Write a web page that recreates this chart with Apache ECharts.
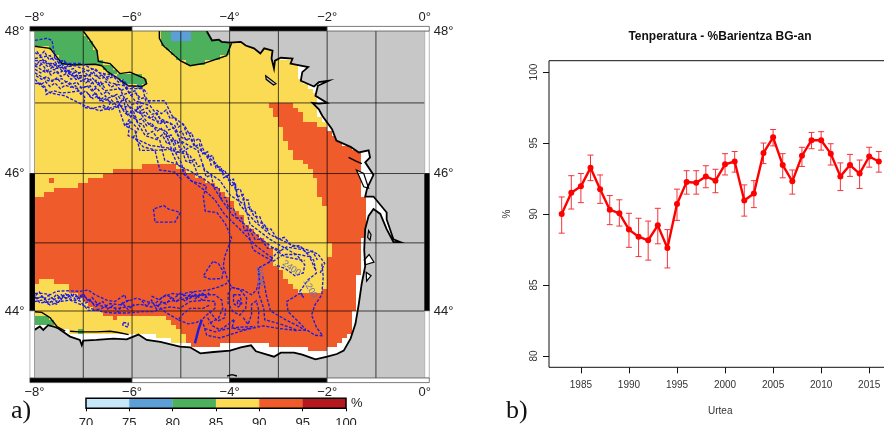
<!DOCTYPE html>
<html><head><meta charset="utf-8">
<style>html,body{margin:0;padding:0;background:#fff}#c{width:884px;height:425px}</style>
<script src="https://cdn.jsdelivr.net/npm/echarts@6/dist/echarts.min.js"></script>
</head><body><div id="c"></div>
<script>
// ---------- panel b data ----------
const years=[1983,1984,1985,1986,1987,1988,1989,1990,1991,1992,1993,1994,1995,1996,1997,1998,1999,2000,2001,2002,2003,2004,2005,2006,2007,2008,2009,2010,2011,2012,2013,2014,2015,2016];
const meanPct=[90.0,91.5,91.95,93.25,91.75,90.3,90.05,88.9,88.4,88.15,89.2,87.6,90.7,92.25,92.2,92.65,92.35,93.5,93.7,90.95,91.45,94.3,95.4,93.45,92.3,94.1,95.2,95.2,94.25,92.65,93.45,92.85,94.05,93.7];
const upperPct=[91.2,92.7,92.85,94.15,92.75,91.3,91.0,90.05,89.7,89.5,90.4,88.9,91.75,93.05,93.05,93.4,93.15,94.25,94.4,92.05,92.35,95.0,95.95,94.25,93.1,94.7,95.75,95.8,94.95,93.6,94.2,93.8,94.7,94.4];
const lowerPct=[88.65,90.35,90.8,92.35,90.75,89.25,89.15,87.65,87.0,86.75,87.9,86.2,89.55,91.4,91.4,91.85,91.5,92.75,92.95,89.85,90.45,93.55,94.8,92.55,91.4,93.35,94.6,94.5,93.45,91.65,92.65,91.8,93.3,92.95];
const yearTicks=[1985,1990,1995,2000,2005,2010,2015];
const pctTicks=[80,85,90,95,100];
// ---------- colour bar ----------
const scaleFrom=[70,75,80,85,90,95];
const scaleTo=[75,80,85,90,95,100];
const scaleColors=['#c4e8f8','#5b9fd6','#4cb05c','#fbdb54','#ef5b2a','#b5191e'];
// ---------- map ticks ----------
const lonLines=[-7,-6,-5,-4,-3,-2,-1];
const latLines=[44,45,46,47];
const latLabels=[44,46,48];
// ---------- map outlines, lon/lat ----------
const seaExtent=[[-8,48],[-3,48],[-3,47.6],[-2.58,47.55],[-2.56,47.31],[-2.27,47.19],[-2.22,47.1],[-2.22,46.89],[-2,46.67],[-1.8,46.47],[-1.35,46.33],[-1.25,46.14],[-1.28,46.02],[-1.35,46],[-1.33,45.88],[-1.25,45.67],[-1.22,45.47],[-1.22,45.34],[-1.25,45.07],[-1.32,44.85],[-1.35,44.5],[-1.35,44.16],[-1.45,44.01],[-1.48,43.77],[-1.62,43.59],[-1.8,43.49],[-2.14,43.39],[-2.34,43.39],[-2.51,43.47],[-3.09,43.47],[-3.29,43.52],[-3.78,43.52],[-4.33,43.49],[-4.74,43.49],[-5.15,43.54],[-5.42,43.62],[-5.7,43.68],[-6,43.69],[-6.38,43.66],[-7.27,43.64],[-7.37,43.72],[-7.99,43.81],[-8,43.81]];
const orangeArea=[[-8,45.65],[-7.78,45.72],[-7.47,45.79],[-7.23,45.77],[-6.99,45.88],[-6.65,45.95],[-6.51,46.02],[-5.97,46.08],[-5.49,46.14],[-5.22,46.14],[-4.98,46.05],[-4.88,46],[-4.34,45.86],[-4.14,45.76],[-3.99,45.64],[-3.79,45.41],[-3.65,45.26],[-3.23,45],[-3.09,44.87],[-3.09,44.71],[-2.87,44.5],[-2.76,44.41],[-2.5,44.27],[-2.19,44.24],[-2.01,44.34],[-2.05,44.75],[-1.9,44.85],[-2.01,45.19],[-2.01,45.44],[-2.11,45.62],[-2.21,45.81],[-2.29,46],[-2.5,46.15],[-2.72,46.24],[-2.81,46.43],[-2.93,46.5],[-2.91,46.65],[-3.11,46.85],[-3.17,46.99],[-2.72,46.99],[-2.56,46.89],[-2.52,46.71],[-2.19,46.71],[-1.99,46.64],[-1,46.5],[-1,43.2],[-4.74,43.2],[-4.74,43.49],[-4.84,43.54],[-4.95,43.67],[-5.15,43.79],[-5.35,43.92],[-5.7,43.96],[-5.97,43.92],[-6.38,43.89],[-6.72,44.01],[-7,44.16],[-7.3,44.31],[-7.34,44.4],[-7.57,44.42],[-7.64,44.47],[-7.88,44.47],[-7.99,44.36],[-8,44.36]];
const orangeSpeck=[[-7.72,45.93],[-7.62,45.98],[-7.6,45.9],[-7.7,45.85]];
const greenNW=[[-8,48],[-7,48],[-6.89,47.9],[-6.72,47.73],[-6.69,47.58],[-6.45,47.55],[-6.25,47.41],[-6.04,47.43],[-5.74,47.34],[-5.7,47.27],[-5.8,47.23],[-6.08,47.24],[-6.28,47.34],[-6.49,47.43],[-6.62,47.52],[-6.76,47.54],[-7.2,47.53],[-7.44,47.55],[-7.54,47.64],[-7.68,47.76],[-8,47.79]];
const greenN=[[-5.44,48],[-5.44,47.9],[-5.36,47.8],[-5.01,47.59],[-4.81,47.52],[-4.54,47.55],[-4.06,47.66],[-3.96,47.83],[-3.96,48]];
const blueN=[[-5.23,48],[-5.23,47.88],[-4.77,47.88],[-4.77,48]];
const greenSW=[[-8,43.95],[-7.82,43.94],[-7.68,43.88],[-7.51,43.74],[-7.37,43.7],[-7.61,43.8],[-8,43.82]];
const greenS=[[-7.29,43.69],[-7.1,43.7],[-6.6,43.69],[-6.3,43.67],[-6.05,43.65],[-6.4,43.63],[-7.29,43.62]];
const coast=[[-4.47,48],[-4.36,47.87],[-4.22,47.88],[-4.16,47.85],[-3.99,47.84],[-3.77,47.85],[-3.67,47.8],[-3.5,47.76],[-3.37,47.69],[-3.29,47.76],[-3.12,47.73],[-3.14,47.62],[-3.09,47.48],[-3.07,47.59],[-2.95,47.63],[-2.71,47.62],[-2.75,47.55],[-2.54,47.52],[-2.39,47.5],[-2.51,47.43],[-2.54,47.31],[-2.27,47.23],[-2.17,47.29],[-1.97,47.31],[-2.19,47.24],[-2.24,47.1],[-2,47],[-2.17,46.99],[-2.3,47],[-2.17,46.91],[-2.1,46.82],[-1.9,46.63],[-1.81,46.47],[-1.52,46.38],[-1.35,46.3],[-1.15,46.33],[-1.12,46.23],[-1.22,46.16],[-1.05,45.98],[-1.18,45.79],[-1.22,45.67],[-1.05,45.67],[-0.78,45.44],[-0.78,45.34],[-0.64,45.05],[-0.5,45.01],[-0.64,45.01],[-0.78,45.2],[-0.91,45.42],[-1.05,45.49],[-1.15,45.39],[-1.22,45.2],[-1.24,44.9],[-1.22,44.66],[-1.29,44.41],[-1.35,44.11],[-1.42,43.81],[-1.52,43.59],[-1.66,43.41],[-1.8,43.36],[-2,43.32],[-2.24,43.28],[-2.51,43.35],[-2.68,43.38],[-2.95,43.38],[-3.09,43.32],[-3.46,43.4],[-3.56,43.49],[-3.77,43.46],[-3.99,43.41],[-4.33,43.39],[-4.6,43.37],[-4.81,43.46],[-5.02,43.47],[-5.42,43.54],[-5.7,43.57],[-5.87,43.65],[-6.11,43.58],[-6.38,43.59],[-6.73,43.57],[-7,43.56],[-7.03,43.49],[-7.07,43.57],[-7.27,43.62],[-7.37,43.67],[-7.51,43.74],[-7.61,43.77],[-7.72,43.79],[-7.82,43.72],[-7.89,43.77],[-8,43.72]];
const landCorners=[[-8,43],[0,43],[0,48]];
const islandsGrey=[[[-3.26,47.38],[-3.05,47.27],[-3.1,47.25],[-3.25,47.33]],[[-1.15,45.18],[-1.1,45.12],[-1.12,45.04],[-1.17,45.08]]];
const islandsWhite=[[[-1.4,46.05],[-1.25,46],[-1.15,45.79],[-1.25,45.81]],[[-1.24,44.75],[-1.14,44.83],[-1.04,44.72],[-1.22,44.68]],[[-1.2,44.57],[-1.1,44.52],[-1.19,44.44]]];
const blackLines=[
 [[-7,48],[-6.89,47.9],[-6.72,47.73],[-6.69,47.58],[-6.45,47.55],[-6.25,47.41],[-6.04,47.43],[-5.74,47.34],[-5.7,47.27],[-5.8,47.23],[-6.08,47.24],[-6.28,47.34],[-6.49,47.43],[-6.62,47.52],[-6.76,47.54],[-7.2,47.53],[-7.44,47.55],[-7.54,47.64],[-7.68,47.76],[-8,47.79]],
 [[-5.44,48],[-5.44,47.9],[-5.36,47.8],[-5.01,47.59],[-4.81,47.52],[-4.54,47.55],[-4.06,47.66],[-3.96,47.83]],
 [[-8,43.99],[-7.85,43.98],[-7.68,43.9],[-7.54,43.77],[-7.37,43.7]],
 [[-7.27,43.7],[-7.07,43.69],[-6.73,43.69],[-6.45,43.7],[-6.28,43.68],[-6.07,43.65]],
 [[-1.56,46.23],[-1.42,46.18],[-1.29,46.14]],
 [[-4.05,43.03],[-3.95,43.05],[-3.85,43.03]]
];
// ---------- contours (dashed bathymetry), lon/lat ----------
const contourA=[[-7.99,47.27],[-7.89,47.28],[-7.78,47.22],[-7.76,47.12],[-7.61,47.17],[-7.44,47.14],[-7.27,47.15],[-7.07,47.17],[-6.97,47.08],[-7,46.94],[-6.83,46.92],[-6.66,46.95],[-6.45,46.9],[-6.25,46.96],[-6.04,46.94],[-6.01,46.82],[-6.14,46.68],[-6.01,46.73],[-5.87,46.63],[-5.97,46.52],[-5.77,46.38],[-5.49,46.33],[-5.15,46.35],[-4.98,46.14],[-4.95,46],[-4.78,45.89],[-4.61,45.86],[-4.47,45.82],[-4.54,45.68],[-4.5,45.46],[-4.26,45.44],[-4.09,45.28],[-3.96,45.07],[-4.1,44.8],[-4.13,44.66],[-4.05,44.48],[-3.96,44.35],[-3.72,44.31],[-3.55,44.24],[-3.45,44.31],[-3.39,44.46],[-3.41,44.63],[-3.14,44.74],[-3.31,44.81],[-3.52,44.9],[-3.58,45.05],[-3.65,45.22]];
const contourB=[[-7.99,47.87],[-7.74,47.9],[-7.64,47.87],[-7.58,47.62],[-7.33,47.55],[-7.03,47.55],[-6.66,47.42],[-6.35,47.38],[-6.08,47.2],[-5.78,47.2],[-5.72,47.03],[-5.33,47.03],[-5.18,46.82],[-4.92,46.68],[-4.71,46.4],[-4.36,46.19],[-4.1,45.98],[-3.89,45.84],[-3.79,45.55],[-3.48,45.31],[-3.17,45.12],[-2.76,44.98],[-2.46,44.91],[-2.19,44.84],[-2.05,44.7],[-2.15,44.55]];
const contourC=[[-7.99,47.62],[-7.68,47.66],[-7.44,47.45],[-7.07,47.42],[-6.76,47.48],[-6.45,47.28],[-6.15,47.24],[-5.94,47.03],[-5.63,46.96],[-5.43,46.78],[-5.12,46.68],[-5.02,46.47],[-4.65,46.33],[-4.51,46.05],[-4.2,45.9],[-3.99,45.69],[-3.69,45.55],[-3.58,45.27],[-3.17,45.05],[-2.66,44.84],[-2.36,44.8],[-2.25,44.62]];
const contourD=[[-7.99,47.52],[-7.78,47.43],[-7.48,47.57],[-7.23,47.38],[-6.86,47.38],[-6.56,47.17],[-6.25,47.2],[-6.08,46.96],[-5.84,46.86],[-5.63,46.68],[-5.33,46.61],[-5.18,46.33],[-4.81,46.26],[-4.65,45.98],[-4.36,45.84],[-4.16,45.62],[-3.95,45.41],[-3.69,45.27],[-3.34,45.05],[-2.87,44.8],[-2.46,44.74]];
const contourE=[[-7.99,47.42],[-7.72,47.31],[-7.44,47.34],[-7.17,47.2],[-6.86,47.24],[-6.66,47.03],[-6.35,47.1],[-6.15,46.86],[-5.94,46.78],[-5.73,46.54],[-5.43,46.47],[-5.33,46.19],[-5.02,46.12],[-4.81,45.91],[-4.51,45.76],[-4.3,45.62],[-4.1,45.41],[-3.79,45.2],[-3.48,44.97],[-3.13,44.78]];
const contourF=[[-7.93,47.28],[-7.68,47.14],[-7.38,47.1],[-6.97,46.96],[-6.66,46.89],[-6.29,46.96],[-6.15,46.68],[-5.94,46.61],[-5.84,46.33],[-5.53,46.33],[-5.43,46.05],[-5.12,46.02],[-4.98,45.91]];
const contourG=[[-7.99,47.59],[-7.78,47.59],[-7.58,47.48],[-7.38,47.5],[-7.17,47.52],[-6.9,47.45],[-6.66,47.34],[-6.41,47.38]];
const contourH=[[-6.25,47.1],[-5.94,47.17],[-5.8,46.96],[-5.94,46.89],[-5.73,46.82],[-5.53,46.75],[-5.22,46.72],[-5.06,46.54],[-4.85,46.47]];
const contourI=[[-6.04,46.75],[-6.08,46.54],[-5.84,46.47],[-5.63,46.4],[-5.22,46.36],[-5.06,46.12],[-4.77,46.02],[-4.6,45.94]];
const contourJ=[[-7.99,47.55],[-7.89,47.52],[-7.82,47.57],[-7.72,47.5],[-7.61,47.55],[-7.51,47.48],[-7.41,47.51],[-7.31,47.45],[-7.2,47.48],[-7.1,47.41],[-7,47.45],[-6.9,47.38],[-6.79,47.43],[-6.69,47.36],[-6.59,47.41],[-6.49,47.34],[-6.38,47.37],[-6.28,47.29],[-6.18,47.32],[-6.08,47.24],[-5.97,47.22],[-5.87,47.24],[-5.77,47.2],[-5.69,47.13]];
const contourK=[[-7.99,47.47],[-7.87,47.42],[-7.77,47.47],[-7.66,47.39],[-7.56,47.44],[-7.46,47.37],[-7.35,47.41],[-7.25,47.33],[-7.15,47.38],[-7.05,47.3],[-6.95,47.34],[-6.84,47.27],[-6.74,47.32],[-6.64,47.25],[-6.54,47.3],[-6.43,47.22],[-6.33,47.26],[-6.23,47.17],[-6.13,47.21],[-6.03,47.11],[-5.92,47.14],[-5.82,47.06],[-5.72,47.08],[-5.62,46.98]];
const contourL=[[-7.97,47.38],[-7.85,47.33],[-7.75,47.37],[-7.64,47.3],[-7.54,47.35],[-7.44,47.27],[-7.33,47.3],[-7.23,47.26],[-7.13,47.29],[-7.03,47.2],[-6.92,47.24],[-6.82,47.17],[-6.72,47.21],[-6.62,47.12],[-6.51,47.16],[-6.41,47.09],[-6.31,47.12],[-6.21,47.03],[-6.1,47.06],[-6,46.98],[-5.9,47],[-5.8,46.9],[-5.69,46.93],[-5.59,46.84],[-5.49,46.86],[-5.39,46.74]];
const contourM=[[-6.9,47.13],[-6.8,47.06],[-6.7,47.1],[-6.6,47.02],[-6.5,47.05],[-6.4,46.98],[-6.3,47.02],[-6.2,46.92],[-6.1,46.88],[-6,46.86],[-5.9,46.75],[-5.8,46.78],[-5.7,46.68],[-5.6,46.72],[-5.5,46.6],[-5.4,46.64],[-5.3,46.52],[-5.2,46.55],[-5.1,46.42],[-5,46.46],[-4.9,46.34],[-4.8,46.38]];
const contourN=[[-5.9,46.95],[-5.8,46.85],[-5.72,46.88],[-5.62,46.78],[-5.55,46.82],[-5.45,46.7],[-5.35,46.74],[-5.25,46.62],[-5.15,46.65],[-5.05,46.58],[-4.98,46.6],[-4.9,46.48],[-4.8,46.5],[-4.72,46.38],[-4.62,46.42],[-4.55,46.28],[-4.45,46.31],[-4.38,46.12],[-4.28,46.15],[-4.18,46.02],[-4.1,46.05],[-4.02,45.9],[-3.92,45.92],[-3.88,45.76],[-3.78,45.78],[-3.72,45.62],[-3.62,45.62],[-3.58,45.46],[-3.48,45.46],[-3.42,45.3],[-3.3,45.28],[-3.2,45.16]];
const contourO=[[-5.5,46.9],[-5.4,46.85],[-5.3,46.9],[-5.22,46.78],[-5.12,46.8],[-5.05,46.66],[-4.95,46.7],[-4.88,46.56],[-4.78,46.58],[-4.72,46.46],[-4.62,46.5],[-4.55,46.36],[-4.45,46.22],[-4.35,46.26],[-4.28,46.08],[-4.18,46.1],[-4.12,45.94],[-4.02,45.98],[-3.98,45.82],[-3.88,45.85],[-3.85,45.66],[-3.72,45.7],[-3.68,45.5],[-3.58,45.52],[-3.5,45.38],[-3.38,45.38],[-3.3,45.22],[-3.15,45.2],[-3.02,45.05],[-2.88,45.08],[-2.72,44.95],[-2.56,44.96],[-2.42,44.85],[-2.3,44.88],[-2.2,44.75]];
const contourP=[[-5.3,46.6],[-5.18,46.45],[-5.08,46.48],[-5,46.3],[-4.9,46.33],[-4.82,46.18],[-4.72,46.2],[-4.65,46.1],[-4.55,46.12],[-4.48,45.95],[-4.38,45.98],[-4.32,45.8],[-4.22,45.8],[-4.18,45.64],[-4.08,45.66],[-4.02,45.5],[-3.92,45.5],[-3.85,45.36],[-3.75,45.36],[-3.7,45.18],[-3.58,45.18],[-3.48,45.05],[-3.35,45.05],[-3.22,44.92],[-3.08,44.93],[-2.95,44.88]];
const contourQ=[[-7.99,47.7],[-7.88,47.66],[-7.8,47.72],[-7.7,47.6],[-7.6,47.64],[-7.5,47.56],[-7.4,47.6],[-7.3,47.5],[-7.2,47.55]];
const contourR=[[-8,47.5],[-7.9,47.58],[-7.8,47.5],[-7.72,47.42],[-7.6,47.47],[-7.5,47.42],[-7.38,47.46],[-7.28,47.4],[-7.18,47.42],[-7.08,47.35],[-6.98,47.38],[-6.88,47.32]];
const contourU=[[-7.99,47.33],[-7.88,47.25],[-7.78,47.3],[-7.68,47.23],[-7.58,47.28],[-7.47,47.2],[-7.37,47.25],[-7.26,47.22],[-7.16,47.24],[-7.05,47.12],[-6.95,47.17],[-6.85,47.08],[-6.75,47.14],[-6.65,47.04],[-6.55,47.1],[-6.45,47]];
const contourV=[[-6.6,46.97],[-6.5,46.93],[-6.42,47.04],[-6.3,46.95],[-6.18,47.06],[-6.1,46.82],[-5.98,46.9],[-5.88,46.72],[-5.78,46.7],[-5.68,46.56],[-5.58,46.6],[-5.48,46.5],[-5.38,46.55],[-5.28,46.42],[-5.18,46.48],[-5.08,46.3],[-4.98,46.35],[-4.9,46.18],[-4.78,46.15]];
const contourW=[[-7.95,47.72],[-7.85,47.62],[-7.75,47.55],[-7.65,47.55],[-7.55,47.52],[-7.45,47.52],[-7.35,47.42],[-7.25,47.42],[-7.15,47.33],[-7.05,47.35],[-6.95,47.28],[-6.85,47.33],[-6.75,47.22],[-6.65,47.3],[-6.55,47.2]];
const contourLobe1=[[-5.56,45.49],[-5.53,45.3],[-5.12,45.3],[-5.01,45.44],[-5.25,45.49],[-5.35,45.54],[-5.56,45.49]];
const contourLobe2=[[-4.34,44.73],[-4.44,44.63],[-4.54,44.51],[-4.4,44.47],[-4.16,44.48],[-4.13,44.58],[-4.23,44.7],[-4.34,44.73]];
const contourL1=[[-7.99,44.26],[-7.82,44.26],[-7.68,44.24],[-7.55,44.29],[-7.34,44.3],[-7.07,44.29],[-6.9,44.31],[-6.76,44.24],[-6.52,44.16],[-6.35,44.14],[-6.15,44.24],[-6.11,44.14],[-5.91,44.19],[-5.7,44.14],[-5.53,44.11],[-5.36,44.21],[-5.16,44.26],[-5.02,44.24],[-4.81,44.28],[-4.68,44.29],[-4.44,44.31],[-4.2,44.36],[-4.05,44.41]];
const contourL2=[[-7.99,44.19],[-7.82,44.21],[-7.72,44.11],[-7.55,44.19],[-7.31,44.24],[-7.14,44.21],[-6.97,44.21],[-6.79,44.11],[-6.56,44.06],[-6.28,44.04],[-6.04,44.07],[-5.84,44.1],[-5.6,44.06],[-5.36,44.12],[-5.19,44.15],[-5.02,44.16],[-4.81,44.21],[-4.51,44.24],[-4.3,44.24],[-4.16,44.16],[-4.14,44.04],[-4.23,43.89],[-4.44,43.81]];
const contourL3=[[-7.99,44.14],[-7.85,44.16],[-7.68,44.09],[-7.48,44.14],[-7.27,44.16],[-7.1,44.11],[-6.86,44.04],[-6.62,43.99],[-6.38,43.97],[-6.11,43.97],[-5.8,43.99],[-5.56,43.99],[-5.39,44.04],[-5.22,44.06],[-5.02,44.04],[-4.81,44.14],[-4.51,44.16],[-4.3,44.14],[-4.3,44.04],[-4.47,43.94],[-4.57,43.87]];
const contourL4=[[-7.99,44.21],[-7.89,44.12],[-7.65,44.14],[-7.55,44.1],[-7.41,44.21],[-7.2,44.16],[-7.07,44.15],[-6.9,44.01],[-6.76,44.01],[-6.62,44.04],[-6.45,44.11],[-6.25,44.09],[-6.04,44.17]];
const contourL5=[[-5.5,44.09],[-5.29,43.97],[-5.05,43.87],[-4.95,43.96],[-4.81,44.04],[-4.54,44.04],[-4.4,44.09]];
const contourL6=[[-5.05,43.87],[-4.85,43.81],[-4.68,43.83],[-4.57,43.87]];
const contourT1=[[-7.98,44.23],[-7.9,44.28],[-7.8,44.17],[-7.72,44.23],[-7.62,44.18],[-7.55,44.25],[-7.45,44.17],[-7.38,44.26],[-7.25,44.2],[-7.18,44.26],[-7.08,44.18],[-7,44.26],[-6.9,44.14],[-6.82,44.2],[-6.7,44.1],[-6.6,44.14],[-6.5,44.03],[-6.4,44.08],[-6.28,43.98],[-6.2,44.12],[-6.08,44.02],[-5.96,44.1]];
const contourT2=[[-5.8,44.15],[-5.7,44.07],[-5.6,44.16],[-5.5,44.03],[-5.4,44.14],[-5.3,44.1],[-5.2,44.2],[-5.1,44.13],[-5,44.2],[-4.9,44.14],[-4.8,44.25],[-4.7,44.18],[-4.6,44.26],[-4.5,44.2],[-4.42,44.27]];
const contourT3=[[-5.6,44.22],[-5.45,44.17],[-5.3,44.24],[-5.15,44.18],[-5,44.27],[-4.85,44.17],[-4.7,44.24],[-4.55,44.16]];
const contourT4=[[-7.95,44.18],[-7.85,44.22],[-7.75,44.15],[-7.65,44.2],[-7.55,44.14],[-7.45,44.24],[-7.35,44.18],[-7.25,44.25],[-7.15,44.16],[-7.05,44.23],[-6.95,44.12],[-6.85,44.15],[-6.75,44.06],[-6.65,44.12]];
const contourT5=[[-4.95,44.24],[-4.85,44.22],[-4.75,44.28],[-4.65,44.21],[-4.55,44.26],[-4.45,44.19]];
const contourS1=[[-4.54,43.81],[-4.47,43.64],[-4.2,43.6],[-3.86,43.68],[-3.62,43.73],[-3.31,43.78],[-2.97,43.74],[-2.63,43.71],[-2.42,43.72],[-2.25,43.64],[-2.09,43.63],[-2.22,43.76],[-2.32,43.94],[-2.25,44.09],[-2.11,44.24],[-2.08,44.51],[-2.11,44.7]];
const contourS2=[[-4.51,43.74],[-4.3,43.69],[-4.03,43.74],[-3.79,43.76],[-3.48,43.77]];
const contourS3=[[-4.45,43.9],[-4.35,43.78],[-4.2,43.72],[-4.05,43.79],[-3.9,43.88],[-3.95,43.75],[-3.75,43.72],[-3.55,43.75]];
const contourS4=[[-4.42,44],[-4.25,43.85],[-4.1,43.9],[-4.08,44.05]];
const contourS5=[[-3.72,43.9],[-3.62,43.8],[-3.55,43.95],[-3.55,44.1],[-3.45,44.15],[-3.4,44],[-3.42,43.78]];
const contourF1=[[-3.41,44.63],[-3.38,44.41],[-3.41,44.27],[-3.3,44.04],[-3.28,43.87],[-2.97,43.81],[-2.63,43.72]];
const contourF2=[[-3.32,44.51],[-3.24,44.21],[-3.16,44],[-2.85,43.87],[-2.63,43.79],[-2.44,43.71]];
const contourF3=[[-2.48,44.2],[-2.56,44.26],[-2.83,44.14],[-2.8,43.99],[-2.63,43.87],[-2.44,43.73]];
const contourEye1=[[-3.96,44.35],[-3.79,44.32],[-3.65,44.19],[-3.67,44.04],[-3.79,43.94],[-3.93,43.99],[-4.03,44.11],[-4.03,44.26],[-3.96,44.35]];
const contourEye2=[[-3.92,44.24],[-3.79,44.24],[-3.75,44.11],[-3.82,44.06],[-3.92,44.11],[-3.92,44.24]];
const contourEye3=[[-3.84,44.16],[-3.77,44.14],[-3.79,44.09],[-3.84,44.11],[-3.84,44.16]];
const contourG1=[[-3.11,44.73],[-2.9,44.83],[-2.63,44.83],[-2.46,44.68],[-2.49,44.56],[-2.66,44.52],[-2.87,44.63],[-3.07,44.68]];
const contourG2=[[-3.21,44.7],[-3.04,44.85],[-2.83,44.94],[-2.49,44.9],[-2.28,44.75],[-2.22,44.56],[-2.39,44.46],[-2.56,44.29],[-2.48,44.2]];
const contourBlob=[[-6.18,43.83],[-6.08,43.82],[-6.08,43.76],[-6.19,43.79],[-6.18,43.83]];
const contours=[contourA,contourB,contourC,contourD,contourE,contourF,contourG,contourH,contourI,contourJ,contourK,contourL,contourM,contourN,contourO,contourP,contourQ,contourR,contourU,contourV,contourW,contourLobe1,contourLobe2,contourL1,contourL2,contourL3,contourL4,contourL5,contourL6,contourT1,contourT2,contourT3,contourT4,contourT5,contourS1,contourS2,contourS3,contourS4,contourS5,contourF1,contourF2,contourF3,contourEye1,contourEye2,contourEye3,contourG1,contourG2,contourBlob];
const canyonLine=[[-4.57,43.87],[-4.64,43.72],[-4.71,43.52]];
const contourLabelLon=[-2.73,-2.35,-3.38];
const contourLabelLat=[44.63,44.33,44.51];
const contourLabelText=['2400','1200','3600'];

// ---------- helpers ----------
const merc=lat=>Math.log(Math.tan(Math.PI/4+lat*Math.PI/360));
const unmerc=m=>2*Math.atan(Math.exp(m))*180/Math.PI-90;
const inPoly=(x,y,p)=>{let c=false;for(let i=0,j=p.length-1;i<p.length;j=i++){const a=p[i],b=p[j];if((a[1]>y)!==(b[1]>y)&&x<(b[0]-a[0])*(y-a[1])/(b[1]-a[1])+a[0])c=!c;}return c;};
const C={yellow:'#fbdb54',orange:'#ef5b2a',green:'#4cb05c',blue:'#5b9fd6',land:'#c7c7c7'};
const cells=[];
const cellLon=0.1,cellLat=0.0667;
for(let i=0;i<80;i++)for(let j=0;j<76;j++){
  const lon=-8+i*cellLon,lat=48-j*cellLat,x=lon+cellLon/2,y=lat-cellLat/2;
  if(!inPoly(x,y,seaExtent))continue;
  let c=C.yellow;
  if(inPoly(x,y,orangeArea)||inPoly(x,y,orangeSpeck))c=C.orange;
  if(inPoly(x,y,greenNW)||inPoly(x,y,greenN)||inPoly(x,y,greenSW)||inPoly(x,y,greenS))c=C.green;
  if(inPoly(x,y,blueN))c=C.blue;
  cells.push({lon,lat,c});
}
const P=(api,pts)=>pts.map(p=>api.coord([p[0],merc(p[1])]));
const mapSeries=(z,list,fn,clip=true)=>({type:'custom',xAxisIndex:0,yAxisIndex:0,z,clip,silent:true,animation:false,data:list.map((_,i)=>[i]),encode:{x:[],y:[]},renderItem:(params,api)=>fn(list[params.dataIndex],api)});
const poly=(pts,api,style)=>({type:'polygon',shape:{points:P(api,pts)},style});
const pline=(pts,api,style)=>({type:'polyline',shape:{points:P(api,pts)},style:Object.assign({fill:null},style)});
const seg=(a,b)=>[[a[0],a[1]],[b[0],b[1]]];

const BAR=4.6;
const frameH=[[-8,-6,'#000'],[-6,-4,'#fff'],[-4,-2,'#000'],[-2,0,'#fff']];
const frameV=[[48,46,'#fff'],[46,44,'#000'],[44,43,'#fff']];
function frameItem(d,api){
  if(d.k==='h'){
    const a=api.coord([d.a,merc(d.y)]),b=api.coord([d.b,merc(d.y)]);
    const y=d.top?a[1]-BAR:a[1];
    const x0=d.a===-8?a[0]-BAR:a[0],x1=d.b===0?b[0]+BAR:b[0];
    return {type:'rect',shape:{x:x0,y,width:x1-x0,height:BAR},style:{fill:d.c,stroke:'#444',lineWidth:0.7}};
  }
  const a=api.coord([d.x,merc(d.a)]),b=api.coord([d.x,merc(d.b)]);
  const x=d.left?a[0]-BAR:a[0];
  return {type:'rect',shape:{x,y:a[1],width:BAR,height:b[1]-a[1]},style:{fill:d.c,stroke:d.c==='#000'?'#000':'#999',lineWidth:0.7}};
}
const frameItems=[];
frameV.forEach(f=>{frameItems.push({k:'v',x:-8,left:true,a:f[0],b:f[1],c:f[2]});frameItems.push({k:'v',x:0,left:false,a:f[0],b:f[1],c:f[2]});});
frameH.forEach(f=>{frameItems.push({k:'h',y:48,top:true,a:f[0],b:f[1],c:f[2]});frameItems.push({k:'h',y:43,top:false,a:f[0],b:f[1],c:f[2]});});

const mapLabelStyle={fontFamily:'Liberation Sans',fontSize:13,color:'#222'};
const deg=v=>String(v).replace('-','\u2212')+'\u00b0';
const chartText={fontFamily:'Liberation Sans',fontSize:10,color:'#333'};

const option={
 animation:false,
 title:{text:'Tenperatura - %Barientza BG-an',left:715,top:26,textAlign:'center',textStyle:{fontFamily:'Liberation Sans',fontWeight:'bold',fontSize:12,color:'#111'}},
 grid:[
  {left:34.5,top:31,width:390.2,height:347,show:false,outerBoundsMode:'none'},
  {left:86,top:398.3,width:260,height:10,show:false,outerBoundsMode:'none'},
  {left:549,top:60.7,width:342.5,height:306.6,show:true,borderColor:'#111',borderWidth:1,backgroundColor:'#fff',outerBoundsMode:'none'}
 ],
 xAxis:[
  {gridIndex:0,type:'value',min:-8,max:0,interval:2,position:'bottom',axisLine:{show:false},axisTick:{show:false},splitLine:{show:false},axisLabel:Object.assign({margin:8,formatter:deg,showMinLabel:true,showMaxLabel:true},mapLabelStyle)},
  {gridIndex:0,type:'value',min:-8,max:0,interval:2,position:'top',axisLine:{show:false},axisTick:{show:false},splitLine:{show:false},axisLabel:Object.assign({margin:7,formatter:deg,showMinLabel:true,showMaxLabel:true},mapLabelStyle)},
  {gridIndex:1,type:'value',min:70,max:100,interval:5,axisLine:{show:false},axisTick:{show:true,length:3,inside:false,lineStyle:{color:'#000'}},splitLine:{show:false},axisLabel:Object.assign({margin:9,showMinLabel:true,showMaxLabel:true},mapLabelStyle)},
  {gridIndex:2,type:'value',min:1981.68,max:2017.32,axisLine:{show:false},axisTick:{length:6,customValues:yearTicks,lineStyle:{color:'#111'}},splitLine:{show:false},axisLabel:Object.assign({},chartText,{customValues:yearTicks,margin:13,formatter:v=>String(v)}),name:'Urtea',nameLocation:'middle',nameGap:39,nameTextStyle:chartText}
 ],
 yAxis:[
  {gridIndex:0,type:'value',min:merc(43),max:merc(48),position:'left',axisLine:{show:false},axisTick:{show:false},splitLine:{show:false},axisLabel:Object.assign({customValues:latLabels.map(merc),margin:10,formatter:v=>deg(Math.round(unmerc(v)))},mapLabelStyle)},
  {gridIndex:0,type:'value',min:merc(43),max:merc(48),position:'right',axisLine:{show:false},axisTick:{show:false},splitLine:{show:false},axisLabel:Object.assign({customValues:latLabels.map(merc),margin:9,formatter:v=>deg(Math.round(unmerc(v)))},mapLabelStyle)},
  {gridIndex:1,type:'value',min:0,max:1,show:false},
  {gridIndex:2,type:'value',min:79.2,max:100.8,axisLine:{show:false},axisTick:{length:6,customValues:pctTicks,lineStyle:{color:'#111'}},splitLine:{show:false},axisLabel:Object.assign({},chartText,{customValues:pctTicks,rotate:90,margin:10,formatter:v=>String(v)}),name:'%',nameLocation:'middle',nameGap:37,nameRotate:90,nameTextStyle:chartText}
 ],
 series:[
  mapSeries(1,cells,(d,api)=>{
    const a=api.coord([d.lon,merc(d.lat)]),b=api.coord([d.lon+cellLon,merc(d.lat-cellLat)]);
    const x=Math.round(a[0]),y=Math.round(a[1]);
    return {type:'rect',shape:{x,y,width:Math.round(b[0])-x,height:Math.round(b[1])-y},style:{fill:d.c}};
  }),
  mapSeries(2,[coast.concat(landCorners)],(d,api)=>poly(d,api,{fill:C.land})),
  mapSeries(2.5,islandsGrey,(d,api)=>poly(d,api,{fill:C.land,stroke:'#000',lineWidth:1.2})),
  mapSeries(2.5,islandsWhite,(d,api)=>poly(d,api,{fill:'#fff',stroke:'#000',lineWidth:1.2})),
  mapSeries(3,lonLines.map(l=>seg([l,43],[l,48])).concat(latLines.map(l=>seg([-8,l],[0,l]))).concat([seg([-8,43],[-8,48])]),(d,api)=>pline(d,api,{stroke:'rgba(0,0,0,0.7)',lineWidth:1})),
  mapSeries(3.5,[coast],(d,api)=>pline(d,api,{stroke:'#000',lineWidth:1.8})),
  mapSeries(3.5,blackLines,(d,api)=>pline(d,api,{stroke:'#000',lineWidth:1.4})),
  mapSeries(4,contours,(d,api)=>pline(d,api,{stroke:'#1c1ce6',lineWidth:1.35,lineDash:[3,1.6]})),
  mapSeries(4,[canyonLine],(d,api)=>pline(d,api,{stroke:'#1c1ce6',lineWidth:2.4})),
  {type:'custom',xAxisIndex:0,yAxisIndex:0,z:4.6,silent:true,animation:false,clip:true,
   data:contourLabelText.map((t,i)=>[contourLabelLon[i],merc(contourLabelLat[i]),t]),
   renderItem:(params,api)=>{const p=api.coord([api.value(0),api.value(1)]);const i=params.dataIndex;const rot=[-35,-60,-85][i]*Math.PI/180;
     return {type:'text',x:p[0],y:p[1],rotation:rot,style:{text:contourLabelText[i],fill:'#6a6ab8',font:'9px Liberation Sans',align:'center',verticalAlign:'middle'}};}},
  mapSeries(6,frameItems,frameItem,false),
  // colour bar
  {type:'custom',xAxisIndex:2,yAxisIndex:2,z:2,silent:true,animation:false,
   data:scaleFrom.map((f,i)=>[f,scaleTo[i],i]),
   renderItem:(params,api)=>{const a=api.coord([api.value(0),1]),b=api.coord([api.value(1),0]);
     return {type:'rect',shape:{x:a[0],y:a[1],width:b[0]-a[0],height:b[1]-a[1]},style:{fill:scaleColors[api.value(2)],stroke:scaleColors[api.value(2)],lineWidth:0.3}};}},
  {type:'custom',xAxisIndex:2,yAxisIndex:2,z:3,silent:true,animation:false,clip:false,data:[[70,100]],
   renderItem:(params,api)=>{const a=api.coord([70,1]),b=api.coord([100,0]);
     return {type:'rect',shape:{x:a[0],y:a[1],width:b[0]-a[0],height:b[1]-a[1]},style:{fill:null,stroke:'#000',lineWidth:1.5}};}},
  // panel b error bars
  {type:'custom',xAxisIndex:3,yAxisIndex:3,z:2,silent:true,animation:false,
   data:years.map((y,i)=>[y,upperPct[i],lowerPct[i]]),
   renderItem:(params,api)=>{const x=api.value(0),u=api.coord([x,api.value(1)]),l=api.coord([x,api.value(2)]);const s={stroke:'#f5333a',lineWidth:1};
     return {type:'group',children:[
      {type:'line',shape:{x1:u[0],y1:u[1],x2:l[0],y2:l[1]},style:s},
      {type:'line',shape:{x1:u[0]-3,y1:u[1],x2:u[0]+3,y2:u[1]},style:s},
      {type:'line',shape:{x1:l[0]-3,y1:l[1],x2:l[0]+3,y2:l[1]},style:s}]};}},
  {type:'line',xAxisIndex:3,yAxisIndex:3,z:3,silent:true,animation:false,data:years.map((y,i)=>[y,meanPct[i]]),
   symbol:'circle',symbolSize:6,showAllSymbol:true,lineStyle:{color:'#ff0000',width:2.4},itemStyle:{color:'#ff0000'}}
 ],
 graphic:[
  {type:'text',left:351,top:397,silent:true,style:{text:'%',font:'13px Liberation Sans',fill:'#222'}},
  {type:'text',left:11,top:398,silent:true,style:{text:'a)',font:'26px Liberation Serif',fill:'#111'}},
  {type:'text',left:506,top:398,silent:true,style:{text:'b)',font:'26px Liberation Serif',fill:'#111'}}
 ]
};
echarts.init(document.getElementById('c'),null,{renderer:'canvas'}).setOption(option);
</script></body></html>
